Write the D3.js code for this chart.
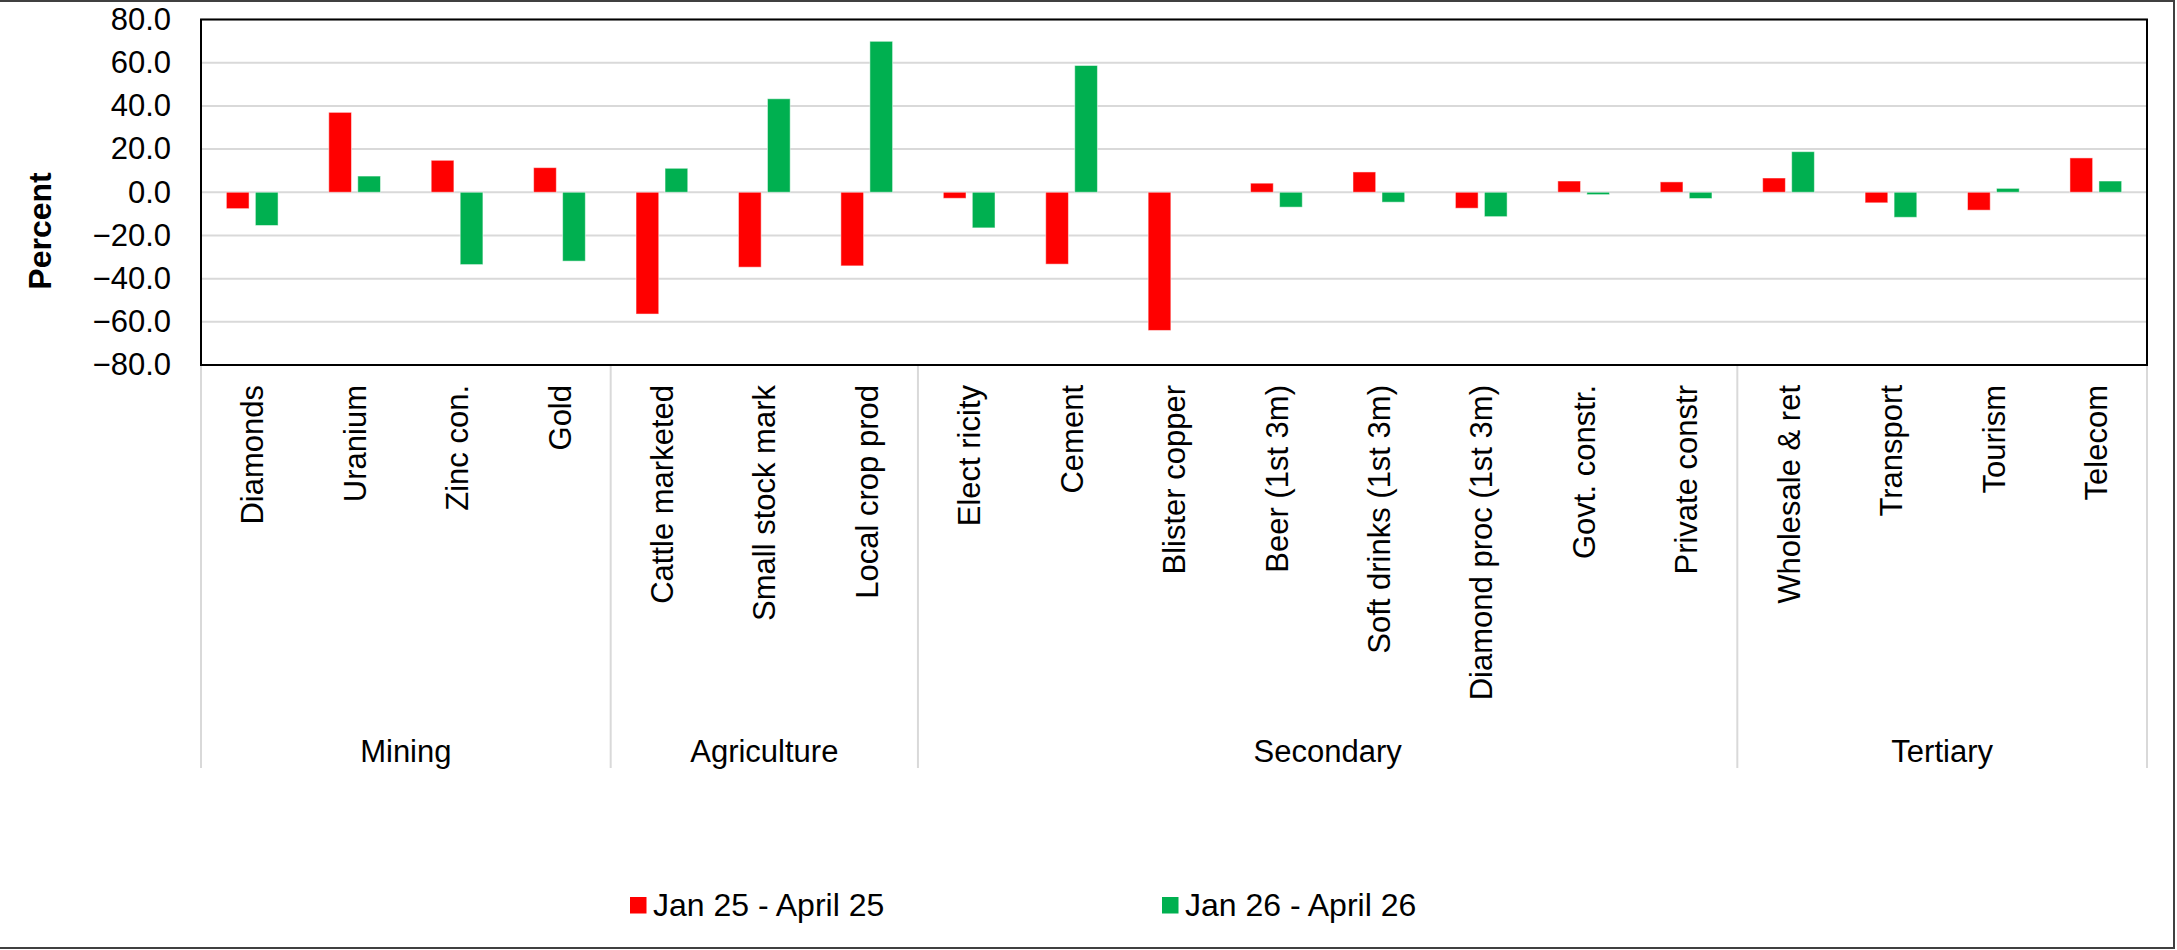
<!DOCTYPE html>
<meta charset="utf-8">
<style>
  body { margin: 0; background: #fff; }
  #chart { font-family: "Liberation Sans", Arial, sans-serif; }
  #chart text { fill: #000; }
</style>
<body>
<div id="chart"></div>
<script src="https://d3js.org/d3.v7.min.js"></script>
<script>

// categories along the x axis, in order
var categories = ["Diamonds", "Uranium", "Zinc con.", "Gold",
  "Cattle marketed", "Small stock mark", "Local crop prod",
  "Elect ricity", "Cement", "Blister copper", "Beer (1st 3m)", "Soft drinks (1st 3m)",
  "Diamond proc (1st 3m)", "Govt. constr.", "Private constr",
  "Wholesale & ret", "Transport", "Tourism", "Telecom"];

// sector groups and how many categories fall in each
var groupNames = ["Mining", "Agriculture", "Secondary", "Tertiary"];
var groupSizes = [4, 3, 8, 4];

var seriesNames = ["Jan 25 - April 25", "Jan 26 - April 26"];
var jan25 = [-7.6, 37.0, 14.8, 11.4, -56.4, -34.7, -34.1, -2.8, -33.3, -64.0,
  4.2, 9.4, -7.4, 5.2, 4.8, 6.6, -4.9, -8.3, 15.9];
var jan26 = [-15.4, 7.5, -33.5, -31.9, 11.1, 43.3, 69.9, -16.5, 58.7, 0.0,
  -6.9, -4.6, -11.3, -1.1, -2.9, 18.8, -11.6, 1.8, 5.2];

var yTicks = [-80, -60, -40, -20, 0, 20, 40, 60, 80];

var colors = ["#FF0000", "#00B050"];

// set the dimensions of the graph
var W = 2177, H = 950;
var plot = {left: 201, top: 19.5, right: 2147, bottom: 365};

var svg = d3.select("#chart")
  .append("svg")
    .attr("width", W)
    .attr("height", H);

// outer frame of the chart
svg.append("rect")
  .attr("x", -3).attr("y", 1)
  .attr("width", 2177).attr("height", 947)
  .attr("fill", "none")
  .attr("stroke", "#404040")
  .attr("stroke-width", 2);

var x0 = d3.scaleBand()
  .domain(categories)
  .range([plot.left, plot.right])
  .padding(0);

var x1 = d3.scaleBand()
  .domain([0, 1])
  .range([0, x0.bandwidth()])
  .paddingInner(0.217)
  .paddingOuter(0.874);

var y = d3.scaleLinear()
  .domain([-80, 80])
  .range([plot.bottom, plot.top]);

// gridlines
svg.append("g")
  .selectAll("line")
  .data(yTicks)
  .enter().append("line")
    .attr("x1", plot.left).attr("x2", plot.right)
    .attr("y1", function(d) { return y(d); })
    .attr("y2", function(d) { return y(d); })
    .attr("stroke", "#d9d9d9")
    .attr("stroke-width", 2);

// bars
var rows = categories.map(function(c, i) { return {cat: c, vals: [jan25[i], jan26[i]]}; });

svg.append("g")
  .selectAll("g")
  .data(rows)
  .enter().append("g")
    .attr("transform", function(d) { return "translate(" + x0(d.cat) + ",0)"; })
  .selectAll("rect")
  .data(function(d) { return d.vals.map(function(v, s) { return {s: s, v: v}; }); })
  .enter().append("rect")
    .attr("x", function(d) { return x1(d.s); })
    .attr("width", x1.bandwidth())
    .attr("y", function(d) { return y(Math.max(0, d.v)); })
    .attr("height", function(d) { return Math.abs(y(d.v) - y(0)); })
    .attr("fill", function(d) { return colors[d.s]; })
    .attr("stroke", "#fff")
    .attr("stroke-opacity", 0.5)
    .attr("stroke-width", 1);

// plot area border
svg.append("rect")
  .attr("x", plot.left).attr("y", plot.top)
  .attr("width", plot.right - plot.left)
  .attr("height", plot.bottom - plot.top)
  .attr("fill", "none")
  .attr("stroke", "#000")
  .attr("stroke-width", 2);

// y axis
var yAxis = svg.append("g")
  .attr("transform", "translate(" + (plot.left - 30) + ",0)")
  .call(d3.axisLeft(y).tickValues(yTicks).tickSize(0).tickPadding(0).tickFormat(d3.format(".1f")));
yAxis.select(".domain").remove();
yAxis.selectAll("text")
  .style("font-size", "31px")
  .style("font-family", "'Liberation Sans', Arial, sans-serif");

svg.append("text")
  .attr("transform", "translate(51,231) rotate(-90)")
  .attr("text-anchor", "middle")
  .style("font-size", "32px")
  .style("font-weight", "bold")
  .text("Percent");

// category axis, labels rotated
var xAxis = svg.append("g")
  .attr("transform", "translate(0," + plot.bottom + ")")
  .call(d3.axisBottom(x0).tickSize(0).tickPadding(0));
xAxis.select(".domain").remove();
xAxis.selectAll("text")
  .style("font-size", "31px")
  .style("font-family", "'Liberation Sans', Arial, sans-serif")
  .attr("text-anchor", "end")
  .attr("transform", "rotate(-90)")
  .attr("x", -20)
  .attr("y", 0)
  .attr("dy", "0.36em");

// group separators and group labels
var bounds = [0];
groupSizes.forEach(function(n, i) { bounds.push(bounds[i] + n); });
var step = x0.step();

svg.append("g")
  .selectAll("line")
  .data(bounds)
  .enter().append("line")
    .attr("x1", function(d) { return plot.left + d * step; })
    .attr("x2", function(d) { return plot.left + d * step; })
    .attr("y1", plot.bottom + 1)
    .attr("y2", 768)
    .attr("stroke", "#d9d9d9")
    .attr("stroke-width", 2);

svg.append("g")
  .selectAll("text")
  .data(groupNames)
  .enter().append("text")
    .attr("x", function(d, i) { return plot.left + (bounds[i] + bounds[i + 1]) / 2 * step; })
    .attr("y", 762)
    .attr("text-anchor", "middle")
    .style("font-size", "31px")
    .text(function(d) { return d; });

// legend
var legendX = [630, 1162];
var legend = svg.append("g")
  .selectAll("g")
  .data(seriesNames)
  .enter().append("g")
    .attr("transform", function(d, i) { return "translate(" + legendX[i] + ",897)"; });

legend.append("rect")
  .attr("width", 16.5).attr("height", 16.5)
  .attr("fill", function(d, i) { return colors[i]; });

legend.append("text")
  .attr("x", 23)
  .attr("y", 19)
  .style("font-size", "32px")
  .text(function(d) { return d; });

</script>
</body>
